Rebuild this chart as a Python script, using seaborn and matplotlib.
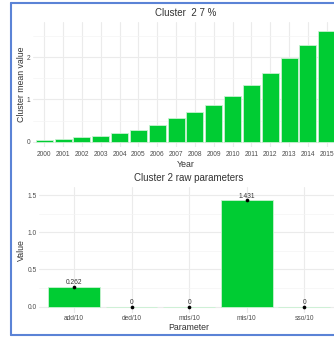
import matplotlib
matplotlib.use("Agg")
import matplotlib.pyplot as plt
import seaborn as sns
from matplotlib.lines import Line2D

sns.set_theme(style="whitegrid")
plt.rcParams['font.family'] = ['Liberation Sans', 'DejaVu Sans']

# data
years = ['2000', '2001', '2002', '2003', '2004', '2005', '2006', '2007',
         '2008', '2009', '2010', '2011', '2012', '2013', '2014', '2015']
mean_vals = [0.04, 0.055, 0.10, 0.14, 0.20, 0.28, 0.40, 0.55,
             0.71, 0.88, 1.09, 1.33, 1.63, 1.97, 2.28, 2.62]
params = ['add/10', 'ded/10', 'mds/10', 'mis/10', 'sso/10']
param_vals = [0.262, 0, 0, 1.431, 0]
param_labels = ['0.262', '0', '0', '1.431', '0']

green = '#00cc33'
edge = '#c9f2d2'
txt = '#4d4d4d'
W, H = 334, 337

fig = plt.figure(figsize=(W / 100, H / 100), dpi=100)
fig.patch.set_facecolor('white')

def box(l, t, r, b):
    return [l / W, 1 - b / H, (r - l) / W, (b - t) / H]

def style(ax):
    ax.set_facecolor('white')
    for s in ax.spines.values():
        s.set_visible(False)
    ax.grid(True, which='major', color='#ebebeb', linewidth=0.8)
    ax.grid(True, which='minor', axis='y', color='#f4f4f4', linewidth=0.5)
    ax.tick_params(length=0, labelsize=4.8, labelcolor=txt, pad=2)
    ax.set_axisbelow(True)

# top panel: cluster mean per year
ax1 = fig.add_axes(box(33, 21.7, 338, 147))
sns.barplot(x=years, y=mean_vals, color=green, saturation=1, width=0.9,
            edgecolor=edge, linewidth=0.6, ax=ax1)
ax1.set_xlim(-0.6, len(years) - 0.4)
ax1.set_ylim(-0.126, 2.84)
ax1.set_yticks([0, 1, 2])
ax1.set_yticks([0.5, 1.5, 2.5], minor=True)
style(ax1)
ax1.tick_params(axis='x', pad=3)
ax1.set_title('Cluster  2 7 %', fontsize=7, color='#333333', pad=4)
ax1.set_xlabel('Year', fontsize=6.3, color='#333333', labelpad=1)
ax1.set_ylabel('Cluster mean value', fontsize=6.3, color='#333333', va='center')
ax1.yaxis.set_label_coords((22 - 33) / 305, 0.5)

# bottom panel: raw parameters
ax2 = fig.add_axes(box(39.4, 186.7, 338.9, 313))
sns.barplot(x=params, y=param_vals, color=green, saturation=1, width=0.9,
            edgecolor=edge, linewidth=0.6, ax=ax2)
ax2.bar_label(ax2.containers[0], labels=param_labels, padding=0.5,
              fontsize=4.8, color='#333333')
sns.scatterplot(x=params, y=param_vals, color='black', s=7, linewidth=0,
                ax=ax2, zorder=5)
ax2.set_xlim(-0.6, len(params) - 0.4)
ax2.set_ylim(-0.085, 1.613)
ax2.set_yticks([0, 0.5, 1.0, 1.5])
ax2.set_yticklabels(['0.0', '0.5', '1.0', '1.5'])
ax2.set_yticks([0.25, 0.75, 1.25], minor=True)
style(ax2)
ax2.tick_params(axis='x', pad=1.5)
ax2.set_title('Cluster 2 raw parameters', fontsize=7, color='#333333', pad=4)
ax2.set_xlabel('Parameter', fontsize=6.3, color='#333333', labelpad=1)
ax2.set_ylabel('Value', fontsize=6.3, color='#333333', va='center')
ax2.yaxis.set_label_coords((21.7 - 39.4) / 299.5, 0.5)

# blue frame of the screenshot
blue = '#5b83d6'
fig.add_artist(Line2D([11 / W, 11 / W], [1 - 3 / H, 1 - 335 / H], color=blue, lw=1.5))
fig.add_artist(Line2D([11 / W, 1], [1 - 3 / H, 1 - 3 / H], color=blue, lw=1.5))
fig.add_artist(Line2D([11 / W, 1], [1 - 335 / H, 1 - 335 / H], color=blue, lw=1.5))

fig.savefig('out.png', dpi=100)
